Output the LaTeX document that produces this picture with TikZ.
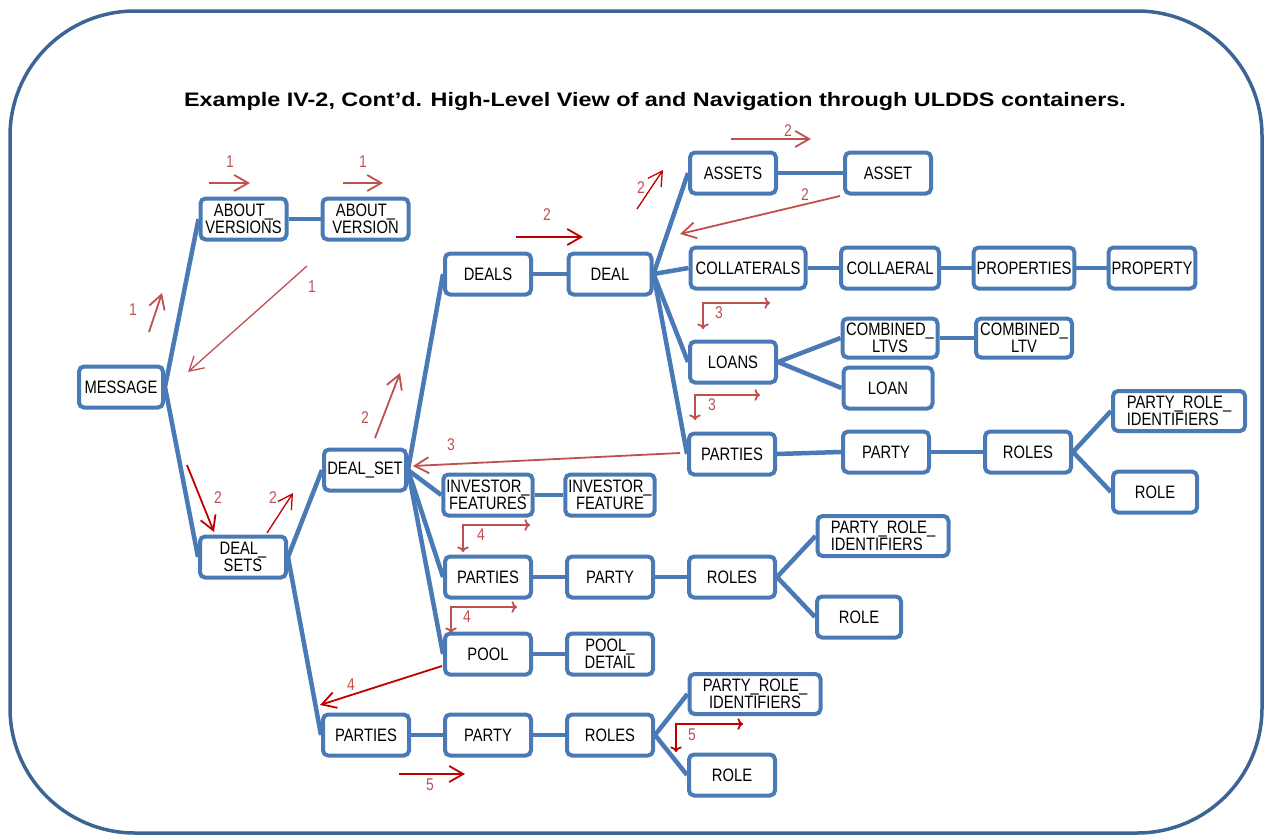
\documentclass[tikz,border=0pt]{standalone}
\usepackage{fontspec}
\setmainfont{Liberation Sans}
\newfontfamily\narrowfont[FakeStretch=0.82]{Liberation Sans}
\newfontfamily\widefont[FakeStretch=1.2]{Liberation Sans}
\usetikzlibrary{arrows.meta}
\definecolor{boxblue}{HTML}{4A7AB5}
\definecolor{framblue}{HTML}{3C6595}
\definecolor{navred}{HTML}{C0504D}
\definecolor{navdark}{HTML}{C00000}
\newcommand\boxfont{\narrowfont\fontsize{18}{17}\selectfont}
\newcommand\numfont{\narrowfont\fontsize{17}{17}\selectfont}
\begin{document}
\begin{tikzpicture}[x=1pt,y=-1pt,
  box/.style={draw=boxblue, line width=4pt, rounded corners=5pt, fill=white,
    minimum width=86pt, minimum height=41pt, inner xsep=3pt, inner ysep=1pt,
    font=\boxfont, align=center},
  link/.style={draw=boxblue, line width=4.5pt},
  nav/.style={draw=navred, line width=1.8pt, -{Straight Barb[length=14pt,width=16pt]}},
  navd/.style={nav, draw=navdark},
  num/.style={text=navred, font=\numfont, inner sep=0pt}]
\useasboundingbox (0,0) rectangle (1266,835);
\draw[framblue, line width=3.5pt, rounded corners=125pt] (10,11) rectangle (1262,833);
\node[font=\widefont\fontsize{19.5}{22}\selectfont\bfseries] (title) at (655,101)
  {Example IV-2, Cont’d. High-Level View of and Navigation through ULDDS containers.};
% containers
\node[box, minimum width=84pt] (msg) at (121,387) {MESSAGE};
\node[box] (avs) at (243.5,219) {ABOUT\_\\VERSIONS};
\node[box] (av) at (365.5,219) {ABOUT\_\\VERSION};
\node[box] (dss) at (243,557) {DEAL\_\\SETS};
\node[box, minimum width=82pt] (ds) at (365,470) {DEAL\_SET};
\node[box] (dls) at (488,274) {DEALS};
\node[box, minimum width=83pt] (dl) at (610,274) {DEAL};
\node[box] (ass) at (733,173) {ASSETS};
\node[box] (as) at (888,173) {ASSET};
\node[box, minimum width=115pt] (cols) at (748,268) {COLLATERALS};
\node[box, minimum width=98pt] (col) at (890,268) {COLLAERAL};
\node[box, minimum width=96pt] (prps) at (1024,268) {PROPERTIES};
\node[box, minimum width=85pt] (prp) at (1152,268) {PROPERTY};
\node[box] (lns) at (733,362) {LOANS};
\node[box, minimum width=95pt, minimum height=39pt] (cltvs) at (890,338) {COMBINED\_\\LTVS};
\node[box, minimum width=96pt, minimum height=39pt] (cltv) at (1024,338) {COMBINED\_\\LTV};
\node[box, minimum width=89pt] (ln) at (888,388) {LOAN};
\node[box] (pts1) at (732,454) {PARTIES};
\node[box] (pty1) at (886,452) {PARTY};
\node[box] (rls1) at (1028,452) {ROLES};
\node[box, minimum width=132pt, minimum height=40pt, align=left] (pri1) at (1179,411) {PARTY\_ROLE\_\\IDENTIFIERS};
\node[box, minimum width=84pt] (rl1) at (1155,492) {ROLE};
\node[box] (ifs) at (488,495) {INVESTOR\_\\FEATURES};
\node[box] (if) at (610,495) {INVESTOR\_\\FEATURE};
\node[box] (pts2) at (488,577) {PARTIES};
\node[box] (pty2) at (610,577) {PARTY};
\node[box] (rls2) at (732,577) {ROLES};
\node[box, minimum width=131pt, minimum height=40pt, align=left] (pri2) at (883,536) {PARTY\_ROLE\_\\IDENTIFIERS};
\node[box, minimum width=84pt] (rl2) at (859,617) {ROLE};
\node[box] (pl) at (488,654) {POOL};
\node[box] (pld) at (610,654) {POOL\_\\DETAIL};
\node[box] (pts3) at (366,735) {PARTIES};
\node[box] (pty3) at (488,735) {PARTY};
\node[box] (rls3) at (610,735) {ROLES};
\node[box, minimum width=131pt, minimum height=40pt] (pri3) at (755,694) {PARTY\_ROLE\_\\IDENTIFIERS};
\node[box] (rl3) at (732,775) {ROLE};
% tree links
\draw[link] (msg.east) -- (avs.west);
\draw[link] (msg.east) -- (dss.west);
\draw[link] (avs) -- (av);
\draw[link] (dss.east) -- (ds.west);
\draw[link] (dss.east) -- (pts3.west);
\draw[link] (ds.east) -- (dls.west);
\draw[link] (ds.east) -- (ifs.west);
\draw[link] (ds.east) -- (pts2.west);
\draw[link] (ds.east) -- (pl.west);
\draw[link] (dls) -- (dl);
\draw[link] (dl.east) -- (ass.west);
\draw[link] (dl.east) -- (cols.west);
\draw[link] (dl.east) -- (lns.west);
\draw[link] (dl.east) -- (pts1.west);
\draw[link] (ass) -- (as);
\draw[link] (cols) -- (col);
\draw[link] (col) -- (prps);
\draw[link] (prps) -- (prp);
\draw[link] (lns.east) -- (cltvs.west);
\draw[link] (lns.east) -- (ln.west);
\draw[link] (cltvs) -- (cltv);
\draw[link] (pts1.east) -- (pty1.west);
\draw[link] (pty1) -- (rls1);
\draw[link] (rls1.east) -- (pri1.west);
\draw[link] (rls1.east) -- (rl1.west);
\draw[link] (ifs) -- (if);
\draw[link] (pts2) -- (pty2);
\draw[link] (pty2) -- (rls2);
\draw[link] (rls2.east) -- (pri2.west);
\draw[link] (rls2.east) -- (rl2.west);
\draw[link] (pl) -- (pld);
\draw[link] (pts3) -- (pty3);
\draw[link] (pty3) -- (rls3);
\draw[link] (rls3.east) -- (pri3.west);
\draw[link] (rls3.east) -- (rl3.west);
% navigation steps
\coordinate (n1a) at (209,183); \coordinate (n1b) at (250,183);
\coordinate (n2a) at (343,183); \coordinate (n2b) at (383,183);
\coordinate (n3a) at (149,332); \coordinate (n3b) at (162,293);
\coordinate (n4a) at (307,266); \coordinate (n4b) at (188,372);
\coordinate (n5a) at (187,465); \coordinate (n5b) at (214,532);
\coordinate (n6a) at (267,533); \coordinate (n6b) at (293,493);
\coordinate (n7a) at (375,438); \coordinate (n7b) at (400,373);
\coordinate (n8a) at (516,237); \coordinate (n8b) at (583,237);
\coordinate (n9a) at (637,209); \coordinate (n9b) at (663,170);
\coordinate (n10a) at (731,139); \coordinate (n10b) at (811,139);
\coordinate (n11a) at (840,196); \coordinate (n11b) at (680,234);
\coordinate (n12a) at (703,329); \coordinate (n12b) at (770,303);
\coordinate (n13a) at (695,420); \coordinate (n13b) at (760,395);
\coordinate (n14a) at (680,453); \coordinate (n14b) at (413,466);
\coordinate (n15a) at (463,552); \coordinate (n15b) at (530,525);
\coordinate (n16a) at (451,633); \coordinate (n16b) at (517,607);
\coordinate (n17a) at (442,666); \coordinate (n17b) at (320,705);
\coordinate (n18a) at (399,774); \coordinate (n18b) at (465,774);
\coordinate (n19a) at (676,752); \coordinate (n19b) at (743,724);
\draw[nav] (n1a) -- (n1b);
\draw[nav] (n2a) -- (n2b);
\draw[nav] (n3a) -- (n3b);
\draw[nav, line width=1.3pt] (n4a) -- (n4b);
\draw[navd] (n5a) -- (n5b);
\draw[navd, line width=1.3pt] (n6a) -- (n6b);
\draw[nav] (n7a) -- (n7b);
\draw[navd] (n8a) -- (n8b);
\draw[navd, line width=1.3pt] (n9a) -- (n9b);
\draw[nav] (n10a) -- (n10b);
\draw[nav] (n11a) -- (n11b);
\draw[nav, <->] (n12a) |- (n12b);
\draw[nav, <->] (n13a) |- (n13b);
\draw[nav] (n14a) -- (n14b);
\draw[nav, <->] (n15a) |- (n15b);
\draw[nav, <->] (n16a) |- (n16b);
\draw[navd] (n17a) -- (n17b);
\draw[navd] (n18a) -- (n18b);
\draw[navd, <->] (n19a) |- (n19b);
\node[num] (s1) at (230,162) {1};
\node[num] (s2) at (363,162) {1};
\node[num] (s3) at (133,310) {1};
\node[num] (s4) at (312,287) {1};
\node[num] (s5) at (218,498) {2};
\node[num] (s6) at (273,498) {2};
\node[num] (s7) at (365,418) {2};
\node[num] (s8) at (547,215) {2};
\node[num] (s9) at (641,188) {2};
\node[num] (s10) at (788,131) {2};
\node[num] (s11) at (805,195) {2};
\node[num] (s12) at (719,313) {3};
\node[num] (s13) at (712,405) {3};
\node[num] (s14) at (451,445) {3};
\node[num] (s15) at (481,535) {4};
\node[num] (s16) at (467,617) {4};
\node[num] (s17) at (351,685) {4};
\node[num] (s18) at (430,785) {5};
\node[num] (s19) at (692,735) {5};
\end{tikzpicture}
\end{document}
